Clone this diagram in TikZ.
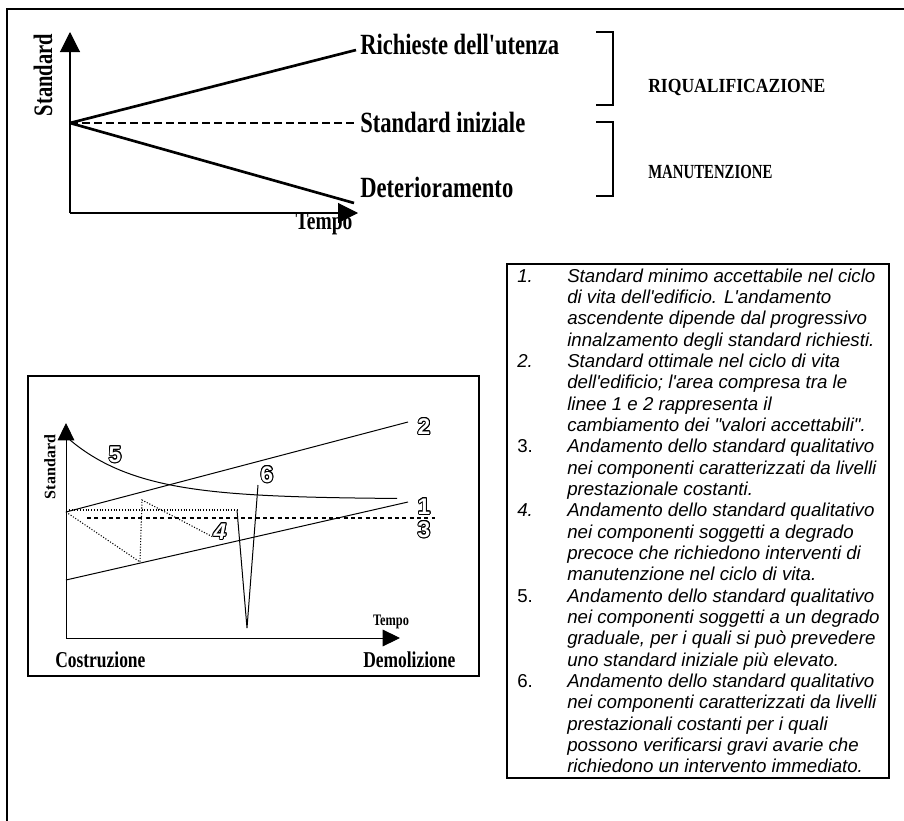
\documentclass[tikz,border=0pt]{standalone}
\usepackage{fontspec}
\usepackage{tikz}
\usepackage{contour}
\usetikzlibrary{arrows.meta}

\setmainfont{Liberation Serif}
\newfontfamily\condserif[FakeStretch=0.77]{Liberation Serif}
\newfontfamily\riqserif[FakeStretch=0.88]{Liberation Serif}
\newfontfamily\manserif[FakeStretch=0.74]{Liberation Serif}
\newfontfamily\notesans{Liberation Sans}
\contourlength{0.7pt}
\newcommand{\curvenum}[1]{\contour{black}{\textcolor{white}{#1}}}

\tikzset{
  bigaxis/.style={line width=0.8pt, -{Triangle[width=15pt,length=15pt]}},
  smallaxis/.style={line width=0.7pt, -{Triangle[width=12.5pt,length=13pt]}},
  trendline/.style={line width=2pt},
  bracketline/.style={line width=1.5pt},
  plotline/.style={line width=0.75pt},
  dotline/.style={line width=0.8pt, dash pattern=on 0.8pt off 1.3pt},
  biglabel/.style={inner sep=0pt, anchor=base west, font=\condserif\bfseries\fontsize{22}{24}\selectfont},
  curvelabel/.style={inner sep=0pt, font=\notesans\bfseries\fontsize{17}{19}\selectfont},
}

\begin{document}
\begin{tikzpicture}[x=0.75pt, y=-0.75pt]
        \useasboundingbox (0,0) rectangle (904,821);
        % Page frame
        \draw [line width=1.1pt] (904,9) -- (7,9) -- (7,821);

        % Top chart: axes
        \coordinate (o) at (70,213);
        \coordinate (s0) at (70,123);
        \draw [bigaxis] (o) -- (70,32);
        \draw [bigaxis] (o) -- (358,213);
        \node [rotate=90, inner sep=0pt, font=\condserif\bfseries\fontsize{20}{22}\selectfont] (ylabel) at (43,75) {Standard};
        \node [inner sep=0pt, font=\condserif\bfseries\fontsize{19}{21}\selectfont] (xlabel) at (324,224) {Tempo};
        % Trends from the initial standard
        \draw [trendline] (s0) -- (356,50);
        \draw [line width=0.8pt, dash pattern=on 6pt off 3pt] (s0) -- (357,123);
        \draw [trendline] (s0) -- (354,203);
        \node [biglabel] (richieste) at (360,54) {Richieste dell'utenza};
        \node [biglabel] (iniziale) at (360,132) {Standard iniziale};
        \node [biglabel] (deterior) at (360,197) {Deterioramento};
        % Brackets
        \draw [bracketline] (596,32) -- (613,32) -- (613,105) -- (596,105);
        \draw [bracketline] (596,122) -- (613,122) -- (613,196) -- (596,196);
        \node [inner sep=0pt, anchor=base west, font=\riqserif\bfseries\fontsize{15}{17}\selectfont] (riqual) at (648,92) {RIQUALIFICAZIONE};
        \node [inner sep=0pt, anchor=base west, font=\manserif\bfseries\fontsize{15}{17}\selectfont] (manut) at (648,178) {MANUTENZIONE};

        % Bottom chart
        \draw [line width=0.9pt] (28,376) rectangle (479,676);
        \coordinate (bo) at (66,638);
        \draw [smallaxis] (bo) -- (66,423);
        \draw [smallaxis] (bo) -- (400,638);
        \node [rotate=90, inner sep=0pt, font=\bfseries\fontsize{12}{14}\selectfont] (bylabel) at (50,467) {Standard};
        \node [inner sep=0pt, font=\condserif\bfseries\fontsize{12}{14}\selectfont] (bxlabel) at (391,622) {Tempo};
        \node [inner sep=0pt, anchor=base west, font=\condserif\bfseries\fontsize{17}{19}\selectfont] (costr) at (55,667) {Costruzione};
        \node [inner sep=0pt, anchor=base west, font=\condserif\bfseries\fontsize{17}{19}\selectfont] (demol) at (363,667) {Demolizione};
        % curves 1-6
        \draw [plotline] (66,512) -- (408,422);
        \draw [plotline] (66,580) -- (408,502);
        \draw [line width=1pt, dash pattern=on 3pt off 2.5pt] (87,518) -- (435,518);
        \draw [dotline] (66,512) -- (140,562) -- (142,500) -- (213,537);
        \draw [plotline] plot [domain=70:397, samples=60, smooth] ({\x},{499-59*exp(-(\x-70)/70)});
        \draw [dotline] (66,510) -- (237,510);
        \draw [plotline] (237,510) -- (247,628) -- (258,485);
        \node [curvelabel] (c1) at (424,507) {\curvenum{1}};
        \node [curvelabel] (c2) at (424,427) {\curvenum{2}};
        \node [curvelabel] (c3) at (424,530) {\curvenum{3}};
        \node [curvelabel] (c4) at (220,532) {\curvenum{\itshape 4}};
        \node [curvelabel] (c5) at (115,455) {\curvenum{5}};
        \node [curvelabel] (c6) at (267,475) {\curvenum{6}};

        % Notes
        \draw [line width=0.8pt] (507,264) rectangle (889,778);
        \node [anchor=north west, inner sep=0pt, font=\notesans\itshape\fontsize{14}{16}\selectfont] (notes) at (517,267) {%
          \begin{tabular}{@{}p{37.5pt}@{}l@{}}
            1. & Standard minimo accettabile nel ciclo\\
               & di vita dell'edificio. L'andamento\\
               & ascendente dipende dal progressivo\\
               & innalzamento degli standard richiesti.\\
            2. & Standard ottimale nel ciclo di vita\\
               & dell'edificio; l'area compresa tra le\\
               & linee 1 e 2 rappresenta il\\
               & cambiamento dei "valori accettabili".\\
            {\upshape 3.} & Andamento dello standard qualitativo\\
               & nei componenti caratterizzati da livelli\\
               & prestazionale costanti.\\
            4. & Andamento dello standard qualitativo\\
               & nei componenti soggetti a degrado\\
               & precoce che richiedono interventi di\\
               & manutenzione nel ciclo di vita.\\
            {\upshape 5.} & Andamento dello standard qualitativo\\
               & nei componenti soggetti a un degrado\\
               & graduale, per i quali si può prevedere\\
               & uno standard iniziale più elevato.\\
            {\upshape 6.} & Andamento dello standard qualitativo\\
               & nei componenti caratterizzati da livelli\\
               & prestazionali costanti per i quali\\
               & possono verificarsi gravi avarie che\\
               & richiedono un intervento immediato.
          \end{tabular}};
    \end{tikzpicture}
\end{document}
